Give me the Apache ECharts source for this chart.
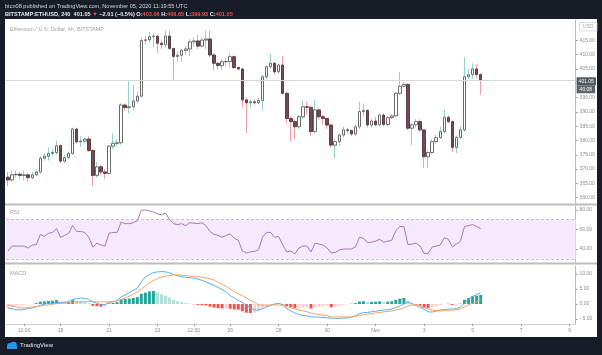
<!DOCTYPE html>
<html><head><meta charset="utf-8">
<script src="https://cdn.jsdelivr.net/npm/echarts@6/dist/echarts.min.js"></script>
<style>
html,body{margin:0;padding:0;width:602px;height:355px;overflow:hidden;background:#181c27;}
#panel{position:absolute;left:5px;top:19px;width:592px;height:318px;background:#ffffff;}
#c{position:absolute;left:0;top:0;width:602px;height:355px;}
</style></head>
<body><div id="panel"></div><div id="c"></div>
<script>
// ---- data (4h candles, BITSTAMP ETH/USD, from 2020-10-16 20:00 UTC) ----
const startTime = Date.UTC(2020, 9, 16, 20, 0);
const slotCount = 141; // visible 4h slots incl. empty future space

const open = [367.2,366.2,368.0,368.2,367.8,368.0,367.0,368.0,369.0,373.8,
374.5,375.5,375.8,378.2,372.8,374.0,375.5,384.0,379.5,379.8,
380.5,376.5,367.8,370.8,369.0,368.5,378.0,379.0,379.2,392.4,
391.5,391.8,393.8,395.5,415.0,415.2,416.3,416.5,414.0,413.5,
416.5,412.2,409.4,409.8,411.5,412.0,414.5,414.8,413.0,415.1,
415.5,409.9,407.0,406.2,407.5,407.6,409.3,405.5,405.0,394.2,
393.2,393.5,393.2,394.0,402.3,405.8,407.0,404.0,406.4,396.5,
387.7,386.6,384.8,388.3,391.8,391.6,383.1,390.7,388.3,387.7,
385.4,378.4,379.6,381.9,383.7,383.5,382.3,384.8,390.1,390.5,
385.4,386.8,385.5,388.9,385.6,388.0,388.6,396.5,399.0,399.6,
384.3,385.5,386.6,383.7,374.3,375.8,379.6,381.0,383.1,388.1,
386.6,377.6,381.1,383.7,402.3,403.0,405.0,403.06];
const close = [366.2,368.0,368.2,367.8,368.0,367.0,368.0,369.0,373.8,374.5,
375.5,375.8,378.2,372.8,374.0,375.5,384.0,379.5,379.8,380.5,
376.5,367.8,370.8,369.0,368.5,378.0,379.0,379.2,392.4,391.5,
391.8,393.8,395.5,415.0,415.2,416.3,416.5,414.0,413.5,416.5,
412.2,409.4,409.8,411.5,412.0,414.5,414.8,413.0,415.1,415.5,
409.9,407.0,406.2,407.5,407.6,409.3,405.5,405.0,394.2,393.2,
393.5,393.2,394.0,402.3,405.8,407.0,404.0,406.4,396.5,387.7,
386.6,384.8,388.3,391.8,391.6,383.1,390.7,388.3,387.7,385.4,
378.4,379.6,381.9,383.7,383.5,382.3,384.8,390.1,390.5,385.4,
386.8,385.5,388.9,385.6,388.0,388.6,396.5,399.0,399.6,384.3,
385.5,386.6,383.7,374.3,375.8,379.6,381.0,383.1,388.1,386.6,
377.6,381.1,383.7,402.3,403.0,405.0,403.06,401.05];
const high = [369.0,369.5,369.5,369.0,369.5,368.5,369.0,370.0,374.5,375.5,
377.5,377.0,380.0,378.8,375.0,376.2,384.5,384.5,381.5,381.0,
381.5,377.0,372.5,371.5,370.0,378.5,382.5,380.5,393.0,393.0,
401.0,399.5,397.0,416.0,416.5,418.0,417.5,417.0,415.0,418.5,
418.5,412.5,411.0,412.0,413.0,415.5,416.0,417.0,416.0,418.5,
418.6,410.5,407.5,408.5,408.8,410.6,409.8,406.0,405.5,395.0,
394.5,394.5,395.0,403.0,406.3,410.3,407.5,407.0,409.5,397.0,
388.5,387.5,389.0,394.0,393.5,392.0,394.0,391.5,389.0,388.0,
386.0,380.5,382.5,384.8,384.5,383.8,385.5,393.5,393.0,391.0,
387.5,388.2,389.5,389.5,388.5,389.2,397.0,404.0,400.5,400.0,
386.0,387.5,387.5,384.0,376.5,380.5,382.0,384.8,390.7,388.8,
387.0,381.8,385.0,409.1,405.0,407.0,406.65,403.5];
const low = [364.0,365.5,367.0,366.5,366.0,365.5,366.5,367.5,368.5,373.0,
373.0,374.5,375.0,372.0,372.2,373.5,375.0,379.0,377.8,379.0,
376.0,364.0,367.0,368.0,366.5,368.0,377.0,378.0,378.5,390.5,
389.5,390.5,393.0,395.0,413.5,414.0,412.5,410.5,412.0,412.5,
411.5,401.4,407.5,407.5,410.0,409.5,413.0,412.0,412.5,412.0,
409.0,404.5,405.0,404.5,406.0,405.5,405.0,404.5,391.5,382.6,
391.5,392.5,392.8,390.5,401.5,405.0,403.0,403.5,396.0,386.0,
379.6,380.5,384.0,387.5,389.0,381.5,382.5,387.5,385.5,384.0,
377.5,373.8,378.0,381.0,382.5,381.5,381.5,384.0,388.5,384.5,
384.5,385.0,384.8,385.0,385.0,387.5,388.2,396.0,398.5,383.5,
378.4,384.5,383.0,370.4,370.5,375.2,379.0,380.5,382.5,386.0,
376.0,375.5,380.5,383.0,401.5,401.5,402.0,396.0];

const rsi = [38,43,43,43,43,41,44,44.5,55,53, 56,57,61,52,54,56,64,58,58,57,
52,42,46,44,43,56,57,57,67.5,66, 66,67,69,79.8,80,79,78,76,75,77,
70,66,65,66,64,67,66.5,66,67,64, 58,55,54,52,54,55.5,51,49,38,36,
37,37.5,39,52,57,57,52,53,44,37, 38,35,41,43,43,37,46,45,44,41,
36,36.5,39,40,40,40,42,52,51,46.5, 47,48,50,47,48,49,59,63,63,44.5,
45,46,43,35.5,35.5,42,43,44,51.5,50, 42,45,48,63,64,65,63,61];

const macd = [-1.3,-1.6,-1.9,-2.0,-1.8,-1.5,-1.3,-0.9,-0.4,-0.1, 0.3,0.4,0.6,0.5,0.6,0.8,1.5,1.8,2.0,1.9,
1.5,0.7,0.3,-0.3,-0.2,0.5,0.8,1.2,2.4,3.0, 3.8,4.5,5.3,7.4,9.0,9.8,10.5,10.7,10.8,10.7,
10.4,9.8,9.4,9.1,8.9,8.8,8.6,8.3,7.9,7.3, 6.8,6.2,5.5,4.8,4.0,2.8,2.0,1.2,0.6,-0.4,
-1.2,-2.0,-2.0,-1.6,-1.0,-0.5,0.0,0.3,-0.3,-1.5, -2.3,-3.0,-3.6,-3.8,-4.0,-4.3,-4.3,-4.4,-4.5,-4.6,
-4.7,-4.8,-4.8,-4.7,-4.7,-4.4,-4.0,-3.2,-2.9,-2.8, -2.6,-2.4,-2.2,-2.0,-1.9,-1.7,-1.2,-0.7,0.0,0.7,
0.1,-0.5,-1.0,-1.8,-2.6,-2.7,-2.3,-2.0,-1.8,-1.7, -1.7,-1.5,-1.1,0.3,1.6,2.5,3.2,3.7];

const signal = [-0.3,-0.6,-1.0,-1.3,-1.3,-1.2,-1.0,-0.9,-0.7,-0.5, -0.3,-0.1,0.1,0.2,0.3,0.4,0.5,0.6,0.7,0.8,
0.8,0.8,0.7,0.7,0.7,0.7,0.8,1.0,1.5,2.0, 2.6,3.3,4.0,5.0,6.0,7.0,7.8,8.4,9.0,9.3,
9.5,9.7,9.7,9.6,9.5,9.3,9.2,9.1,8.9,8.7, 8.4,8.0,7.2,6.6,5.9,5.0,4.2,3.4,2.8,2.0,
1.2,0.5,-0.3,-0.4,-0.4,-0.3,-0.3,-0.3,-0.5,-1.0, -1.3,-1.7,-2.0,-2.3,-2.6,-3.0,-3.3,-3.5,-3.7,-3.9,
-4.3,-4.3,-4.3,-4.3,-4.3,-4.3,-4.2,-3.8,-3.6,-3.4, -3.2,-3.0,-2.8,-2.6,-2.5,-2.3,-2.0,-1.7,-1.3,-0.6,
-0.3,-0.5,-0.8,-1.2,-1.7,-2.0,-2.3,-2.3,-2.2,-2.1, -2.0,-1.9,-1.7,-1.0,-0.3,0.3,0.8,1.3];

const hist = [-1.5,-1.0,-0.6,-0.5,-0.3,-0.2,-0.2,0.3,0.8,0.9, 1.0,1.1,1.3,0.8,0.6,0.7,1.3,1.1,1.0,0.8,
0.3,-0.6,-0.7,-0.9,-0.8,0.2,0.4,0.6,1.5,1.7, 1.8,2.0,2.3,3.4,3.8,4.2,4.3,3.9,3.3,2.8,
2.2,1.5,1.0,0.6,0.3,0.1,-0.1,-0.3,-0.4,-0.5, -0.9,-1.2,-1.4,-1.5,-1.5,-1.6,-1.8,-1.9,-2.4,-2.9,
-3.0,-2.8,-2.4,-1.6,-1.0,-0.5,-0.2,0.1,-0.2,-0.7, -1.1,-1.4,-1.4,-1.2,-1.1,-1.5,-1.2,-1.0,-0.8,-0.7,
-1.1,-0.9,-0.6,-0.3,-0.1,0.1,0.3,0.8,0.9,0.7, 0.7,0.8,0.9,0.7,0.8,0.9,1.4,1.8,2.0,1.0,
0.3,-0.2,-0.5,-1.2,-1.3,-1.0,-0.7,-0.4,0.0,0.1, -0.3,-0.2,0.1,1.4,2.0,2.6,2.8,3.0];

const xTickIndex  = [4, 13, 25, 37, 46, 55, 67, 79, 91, 103, 115, 127, 139];
const xTickLabels = ['12:00','19','21','23','12:00','26','28','30','Nov','3','5','7','9'];
const priceTicks = [360,365,370,375,380,385,390,395,405,410,415];
const rsiTicks = [40,60,80];
const macdTicks = [-5,0,5,10];
const lastPrice = 401.05;
const countdown = '40:08';

// ---- build ----
const categories = Array.from({length: slotCount}, (_, i) => new Date(startTime + i*4*3600*1000).toISOString().slice(0,16));
const tickMap = {}; xTickIndex.forEach((k, j) => tickMap[k] = xTickLabels[j]);
const wickData = open.map((o, i) => [o, close[i], low[i], high[i]]);
const bodyData = open.map((o, i) => [o, close[i], Math.min(o, close[i]), Math.max(o, close[i])]);
const histData = hist.map((v, i) => {
  const p = i > 0 ? hist[i-1] : v;
  let c;
  if (v >= 0) c = v >= p ? '#26a69a' : '#b2dfdb';
  else c = v < p ? '#ef5350' : '#ffcdd2';
  return {value: v, itemStyle: {color: c}};
});

const fmt = v => (v < 0 ? '\u2212' : '') + Math.abs(v).toFixed(2);
const GL = 6, GR = 26.4;
const axisColor = '#b9b9b9';
const lblColor = '#8c8c8c';
const FONT = '"Liberation Sans", Arial, sans-serif';

function xAx(gi, show) {
  return {
    type: 'category', gridIndex: gi, data: categories, boundaryGap: true,
    axisLine: {show: show, onZero: false, lineStyle: {color: '#d0d0d0'}},
    axisTick: {show: show, interval: (i) => i in tickMap, alignWithLabel: true, length: 2, lineStyle: {color: '#999'}},
    axisLabel: {show: show, interval: (i) => i in tickMap, formatter: (v, i) => tickMap[i] || '',
      fontSize: 5, color: lblColor, margin: 4, fontFamily: FONT},
    splitLine: {show: false}
  };
}
function yAx(gi, min, max, ticks) {
  return {
    type: 'value', gridIndex: gi, position: 'right', min: min, max: max, scale: true,
    axisLine: {show: true, lineStyle: {color: axisColor}},
    axisTick: {show: true, length: 2, customValues: ticks, lineStyle: {color: '#999'}},
    axisLabel: {show: true, customValues: ticks, formatter: fmt, fontSize: 5, color: lblColor, margin: 4, fontFamily: FONT},
    splitLine: {show: false}
  };
}

const chart = echarts.init(document.getElementById('c'), null, {renderer: 'canvas'});
chart.setOption({
  animation: false,
  backgroundColor: 'transparent',
  grid: [
    {left: GL, right: GR, top: 20, height: 183},
    {left: GL, right: GR, top: 206, height: 56},
    {left: GL, right: GR, top: 266, height: 58}
  ],
  xAxis: [xAx(0, false), xAx(1, false), xAx(2, true)],
  yAxis: [
    yAx(0, 358.15, 422.13, priceTicks),
    yAx(1, 26.67, 84.1, rsiTicks),
    yAx(2, -6.67, 12.67, macdTicks)
  ],
  series: [
    {
      type: 'candlestick', name: 'wicks', xAxisIndex: 0, yAxisIndex: 0, data: wickData, barWidth: 1,
      itemStyle: {color: '#8fd3c9', color0: '#f0a0a0', borderColor: '#8fd3c9', borderColor0: '#f0a0a0', borderWidth: 1}
    },
    {
      type: 'candlestick', name: 'bodies', xAxisIndex: 0, yAxisIndex: 0, data: bodyData, barWidth: 3,
      itemStyle: {color: '#ffffff', color0: '#6f4b52', borderColor: '#6a6a6a', borderColor0: '#5e3f45', borderWidth: 1},
      markLine: {
        silent: true, symbol: 'none',
        lineStyle: {color: '#d6d6d6', width: 1, type: 'solid'},
        label: {
          position: 'end', distance: 1, offset: [0, 5],
          formatter: '{a|' + lastPrice.toFixed(2) + '}\n{b|' + countdown + '}',
          rich: {
            a: {backgroundColor: '#50545c', color: '#ffffff', fontSize: 5, padding: [2, 2, 1, 2], fontFamily: FONT},
            b: {backgroundColor: '#5f636b', color: '#ffffff', fontSize: 5, padding: [2, 3, 1, 3], fontFamily: FONT}
          }
        },
        data: [{yAxis: lastPrice}]
      }
    },
    {
      type: 'line', name: 'RSI', xAxisIndex: 1, yAxisIndex: 1, data: rsi, symbol: 'none',
      lineStyle: {color: '#a27ab4', width: 1},
      markArea: {silent: true, itemStyle: {color: '#f5e9fb'}, data: [[{yAxis: 70}, {yAxis: 30}]]},
      markLine: {silent: true, symbol: 'none', label: {show: false},
        lineStyle: {color: '#cdb9d9', width: 1, type: [3, 2]},
        data: [{yAxis: 70}, {yAxis: 30}]}
    },
    {
      type: 'bar', name: 'Histogram', xAxisIndex: 2, yAxisIndex: 2, data: histData, barWidth: 3
    },
    {
      type: 'line', name: 'MACD', xAxisIndex: 2, yAxisIndex: 2, data: macd, symbol: 'none',
      lineStyle: {color: '#5aaee8', width: 1}
    },
    {
      type: 'line', name: 'Signal', xAxisIndex: 2, yAxisIndex: 2, data: signal, symbol: 'none',
      lineStyle: {color: '#f5a36a', width: 1}
    }
  ],
  graphic: [
    {type: 'text', x: 5, y: 3, style: {text: 'btcn08 published on TradingView.com, November 05, 2020 11:19:55 UTC', fill: '#d6d8de', fontSize: 5.6, fontFamily: FONT}},
    {type: 'text', x: 5, y: 11, style: {
      text: '{w|BITSTAMP:ETHUSD, 240  401.05 }{r|\u25BC}{w| \u22122.01 (\u22120.5%) O:}{r|403.06}{w| H:}{r|406.65}{w| L:}{r|399.93}{w| C:}{r|401.05}',
      rich: {w: {fill: '#e6e8ee', fontSize: 5.6, fontWeight: 'bold', fontFamily: FONT}, r: {fill: '#ef5350', fontSize: 5.6, fontWeight: 'bold', fontFamily: FONT}}
    }},
    {type: 'text', x: 10, y: 26, style: {text: 'Ethereum / U.S. Dollar, 4h, BITSTAMP', fill: '#a0a0a0', fontSize: 5.5, fontFamily: FONT}},
    {type: 'text', x: 10, y: 209, style: {text: 'RSI', fill: '#a0a0a0', fontSize: 5.5, fontFamily: FONT}},
    {type: 'text', x: 10, y: 270, style: {text: 'MACD', fill: '#a0a0a0', fontSize: 5.5, fontFamily: FONT}},
    {type: 'rect', shape: {x: 5, y: 203.5, width: 592, height: 2}, style: {fill: '#bdbdbd'}, silent: true},
    {type: 'rect', shape: {x: 5, y: 262.5, width: 592, height: 2}, style: {fill: '#bdbdbd'}, silent: true},
    {type: 'text', x: 580, y: 23, style: {text: 'USD', fill: '#9a9a9a', fontSize: 5, fontFamily: FONT, backgroundColor: '#ffffff', borderColor: '#cfcfcf', borderWidth: 0.8, padding: [1.5, 3, 1, 3]}},
    {type: 'circle', shape: {cx: 10, cy: 346, r: 3}, style: {fill: '#2196f3'}},
    {type: 'circle', shape: {cx: 13.5, cy: 345, r: 3.3}, style: {fill: '#2196f3'}},
    {type: 'rect', shape: {x: 7, y: 346, width: 10, height: 3}, style: {fill: '#2196f3'}},
    {type: 'text', x: 20, y: 342, style: {text: 'TradingView', fill: '#e8eaf0', fontSize: 6, fontFamily: FONT}}
  ]
});
</script>
</body></html>
